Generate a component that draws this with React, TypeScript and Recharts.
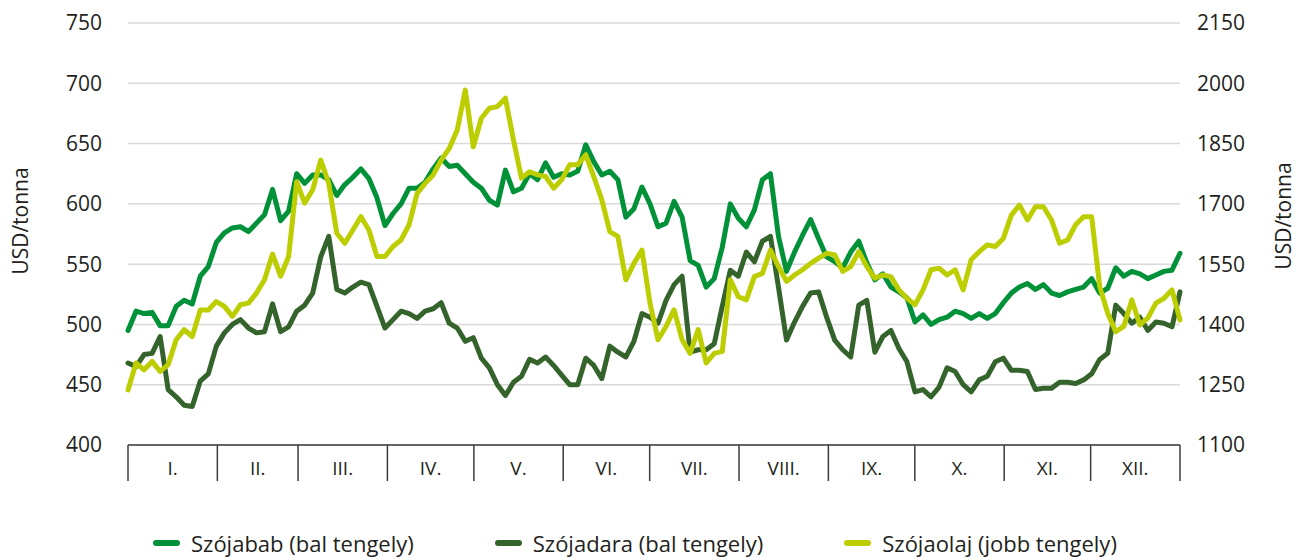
import { LineChart, Line, XAxis, YAxis, CartesianGrid, Legend, Label } from 'recharts';

const MONTHS = ['I.', 'II.', 'III.', 'IV.', 'V.', 'VI.', 'VII.', 'VIII.', 'IX.', 'X.', 'XI.', 'XII.'];
const MONTH_DAYS = [31, 28, 31, 30, 31, 30, 31, 31, 30, 31, 30, 31];

// napi árak, kb. 2,8 naponként leolvasva
const SZOJABAB = [
  495, 511, 509, 510, 499, 499, 515, 520, 517, 540, 548, 568, 576, 580, 581, 577, 584, 591, 612, 586,
  594, 625, 617, 624, 624, 620, 607, 616, 622, 629, 621, 605, 582, 592, 600, 613, 613, 618, 629, 638,
  631, 632, 625, 618, 613, 603, 599, 628, 610, 613, 625, 620, 634, 622, 625, 624, 627, 649, 635, 624,
  627, 620, 589, 596, 614, 600, 581, 584, 602, 589, 553, 549, 531, 538, 564, 600, 588, 581, 595, 620,
  625, 573, 544, 560, 574, 587, 571, 556, 552, 547, 560, 569, 551, 537, 542, 531, 527, 522, 502, 508,
  500, 504, 506, 511, 509, 505, 509, 505, 509, 518, 526, 531, 534, 529, 533, 526, 524, 527, 529, 531,
  538, 526, 530, 547, 540, 544, 542, 538, 541, 544, 545, 559,
];

const SZOJADARA = [
  468, 465, 475, 476, 490, 446, 440, 433, 432, 453, 459, 482, 493, 500, 504, 497, 493, 494, 517, 494,
  498, 511, 516, 526, 556, 573, 529, 526, 531, 535, 533, 515, 497, 504, 511, 509, 505, 511, 513, 518,
  501, 497, 486, 489, 472, 464, 450, 441, 452, 457, 471, 468, 473, 466, 458, 450, 450, 472, 466, 455,
  482, 477, 473, 486, 509, 506, 501, 520, 533, 540, 477, 479, 479, 484, 515, 545, 540, 560, 552, 569,
  573, 531, 487, 502, 515, 526, 527, 506, 487, 479, 473, 516, 520, 477, 490, 495, 480, 469, 444, 446,
  440, 448, 464, 461, 450, 444, 454, 457, 469, 472, 462, 462, 461, 446, 447, 447, 452, 452, 451, 454,
  459, 471, 476, 516, 509, 501, 506, 495, 502, 501, 498, 527,
];

const SZOJAOLAJ = [
  1237, 1304, 1287, 1308, 1283, 1300, 1362, 1387, 1370, 1436, 1436, 1457, 1445, 1420, 1449, 1453, 1478, 1511, 1575, 1520,
  1569, 1755, 1702, 1735, 1809, 1751, 1627, 1602, 1635, 1668, 1635, 1569, 1569, 1594, 1610, 1648, 1726, 1751, 1772, 1809,
  1838, 1884, 1983, 1842, 1913, 1938, 1942, 1963, 1859, 1764, 1780, 1772, 1768, 1739, 1760, 1797, 1797, 1822, 1768, 1710,
  1631, 1619, 1511, 1552, 1585, 1453, 1362, 1395, 1436, 1362, 1328, 1387, 1304, 1328, 1333, 1511, 1469, 1461, 1519, 1527,
  1585, 1544, 1507, 1523, 1536, 1552, 1565, 1577, 1573, 1532, 1544, 1581, 1544, 1515, 1523, 1519, 1486, 1465, 1449, 1486,
  1536, 1540, 1523, 1536, 1486, 1561, 1581, 1598, 1594, 1614, 1672, 1697, 1660, 1693, 1693, 1660, 1602, 1610, 1648, 1668,
  1668, 1494, 1428, 1382, 1395, 1461, 1399, 1416, 1453, 1465, 1486, 1411,
];

const LEFT_TICKS = [400, 450, 500, 550, 600, 650, 700, 750];
const RIGHT_TICKS = [1100, 1250, 1400, 1550, 1700, 1850, 2000, 2150];

const SERIES = [
  { key: 'bab', name: 'Szójabab (bal tengely)', color: '#009139', axis: 'left' },
  { key: 'dara', name: 'Szójadara (bal tengely)', color: '#35632c', axis: 'left' },
  { key: 'olaj', name: 'Szójaolaj (jobb tengely)', color: '#bccd00', axis: 'right' },
];

const YEAR_DAYS = MONTH_DAYS.reduce((a, b) => a + b, 0);

const data = SZOJABAB.map((v, i) => ({
  t: (i * YEAR_DAYS) / (SZOJABAB.length - 1),
  bab: v,
  dara: SZOJADARA[i],
  olaj: SZOJAOLAJ[i],
}));

// hónaphatárok (elválasztó vonalak) és hónapközepek (feliratok)
const BOUNDS: number[] = [0];
MONTH_DAYS.forEach(d => BOUNDS.push(BOUNDS[BOUNDS.length - 1] + d));
const CENTERS = MONTH_DAYS.map((d, i) => BOUNDS[i] + d / 2);
const X_TICKS = [...BOUNDS, ...CENTERS].sort((a, b) => a - b);

const TEXT = '#231f20';

function MonthTick({ x, y, payload }: any) {
  const v = payload.value;
  if (BOUNDS.includes(v)) {
    return <line x1={x} x2={x} y1={y} y2={y + 36} stroke="#3c3c3c" strokeWidth={1.5} />;
  }
  return (
    <text x={x} y={y + 23} textAnchor="middle" dominantBaseline="central" fontSize={19} fill={TEXT}>
      {MONTHS[CENTERS.indexOf(v)]}
    </text>
  );
}

function renderLegend() {
  return (
    <div style={{ display: 'flex', alignItems: 'center', height: 28, paddingLeft: 153, gap: 81, fontSize: 22, color: TEXT }}>
      {SERIES.map(s => (
        <div key={s.key} style={{ display: 'flex', alignItems: 'center' }}>
          <span style={{ width: 27, height: 6, borderRadius: 3, background: s.color, marginRight: 11 }} />
          <span>{s.name}</span>
        </div>
      ))}
    </div>
  );
}

export default function App() {
  return (
    <div style={{ position: 'absolute', left: 0, top: 0, fontFamily: '"Open Sans", sans-serif' }}>
      <LineChart width={1296} height={557} data={data} margin={{ top: 23, right: 0, bottom: 0, left: 0 }}>
        <CartesianGrid yAxisId="left" vertical={false} stroke="#d9d9d9" strokeWidth={1.5} />
        <XAxis
          dataKey="t"
          type="number"
          domain={[0, YEAR_DAYS]}
          ticks={X_TICKS}
          interval={0}
          height={84}
          tickLine={false}
          tickSize={0}
          tickMargin={0}
          axisLine={{ stroke: '#3c3c3c', strokeWidth: 1.5 }}
          tick={<MonthTick />}
        />
        <YAxis
          yAxisId="left"
          width={128}
          domain={[400, 750]}
          ticks={LEFT_TICKS}
          axisLine={false}
          tickLine={false}
          tickSize={0}
          tickMargin={26}
          tick={{ fontSize: 21, fill: TEXT }}
        >
          <Label
            content={() => (
              <text x={20} y={221} transform="rotate(-90 20 221)" textAnchor="middle" dominantBaseline="central" fontSize={21} fill={TEXT}>
                USD/tonna
              </text>
            )}
          />
        </YAxis>
        <YAxis
          yAxisId="right"
          orientation="right"
          width={116}
          domain={[1100, 2150]}
          ticks={RIGHT_TICKS}
          axisLine={false}
          tickLine={false}
          tickSize={0}
          tickMargin={17}
          tick={{ fontSize: 21, fill: TEXT }}
        >
          <Label
            content={() => (
              <text x={1283} y={216} transform="rotate(-90 1283 216)" textAnchor="middle" dominantBaseline="central" fontSize={21} fill={TEXT}>
                USD/tonna
              </text>
            )}
          />
        </YAxis>
        {SERIES.map(s => (
          <Line
            key={s.key}
            yAxisId={s.axis}
            type="linear"
            dataKey={s.key}
            name={s.name}
            stroke={s.color}
            strokeWidth={5}
            strokeLinejoin="round"
            strokeLinecap="round"
            dot={false}
            activeDot={false}
            isAnimationActive={false}
          />
        ))}
        <Legend verticalAlign="bottom" content={renderLegend} wrapperStyle={{ left: 0, bottom: 0, width: 1296 }} />
      </LineChart>
    </div>
  );
}
